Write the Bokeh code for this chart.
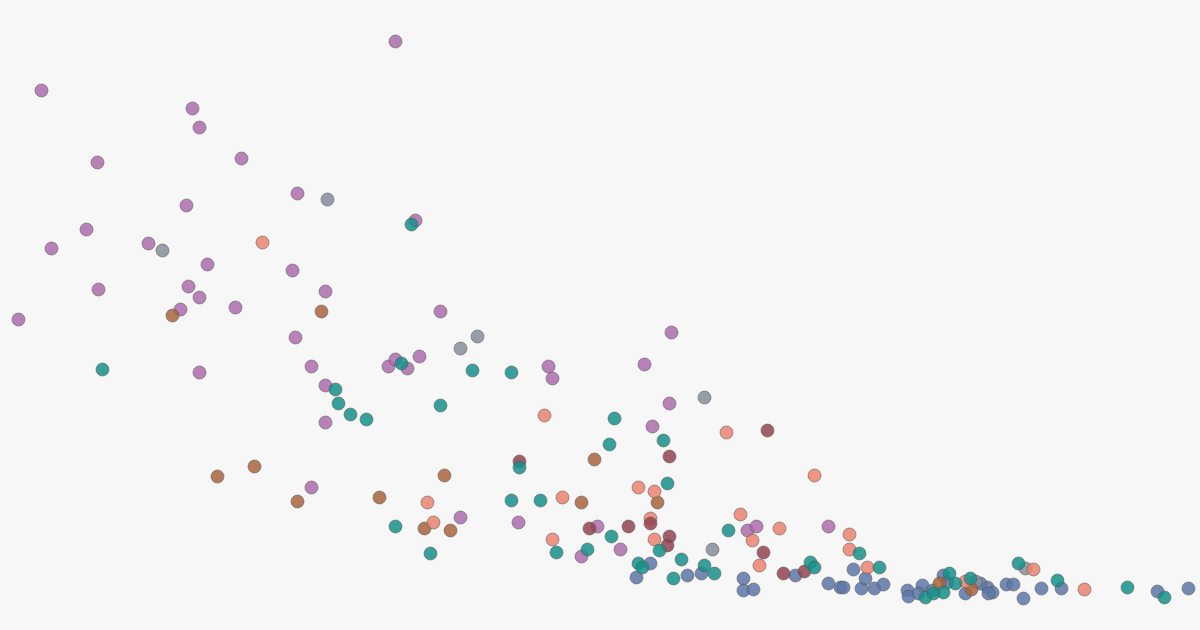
from bokeh.plotting import figure
from bokeh.models import Range1d
from bokeh.embed import file_html
from bokeh.resources import INLINE

# Values (x, y) per group
purple_x = [395, 41, 192, 199, 97, 241, 297, 186, 86, 148, 51, 415, 207, 292, 188, 98, 325, 199, 180, 235, 18, 440, 671, 295, 311, 325, 325, 199, 388, 395, 407, 419, 548, 552, 644, 669, 652, 311, 460, 518, 597, 581, 620, 747, 756, 828]
purple_y = [41, 90, 108, 127, 162, 158, 193, 205, 229, 243, 248, 220, 264, 270, 286, 289, 291, 297, 309, 307, 319, 311, 332, 337, 366, 385, 422, 372, 366, 359, 368, 356, 366, 378, 364, 403, 426, 487, 517, 522, 526, 556, 549, 530, 526, 526]

teal_x = [411, 102, 335, 338, 350, 366, 401, 472, 511, 440, 614, 609, 663, 519, 667, 511, 540, 395, 430, 556, 587, 611, 638, 642, 659, 673, 681, 704, 714, 728, 810, 814, 859, 879, 949, 943, 925, 933, 955, 970, 1018, 1057, 1127, 1164]
teal_y = [224, 369, 389, 403, 414, 419, 363, 370, 372, 405, 418, 444, 440, 467, 483, 500, 500, 526, 553, 552, 549, 536, 563, 567, 550, 578, 559, 565, 573, 530, 562, 567, 553, 567, 573, 592, 597, 593, 583, 578, 563, 580, 587, 597]

grey_x = [327, 162, 460, 477, 704, 712, 975, 1025]
grey_y = [199, 250, 348, 336, 397, 549, 581, 568]

salmon_x = [262, 544, 726, 814, 638, 654, 562, 427, 433, 552, 740, 752, 779, 650, 654, 759, 849, 849, 867, 965, 1033, 1084]
salmon_y = [242, 415, 432, 475, 487, 491, 497, 502, 522, 539, 514, 540, 528, 518, 539, 565, 534, 549, 567, 581, 569, 589]

brown_x = [172, 321, 217, 254, 297, 379, 444, 424, 450, 594, 581, 657, 939, 971]
brown_y = [315, 311, 476, 466, 501, 497, 475, 528, 530, 459, 502, 502, 583, 589]

darkred_x = [519, 669, 767, 589, 628, 650, 669, 667, 763, 783, 804]
darkred_y = [461, 456, 430, 528, 526, 523, 536, 545, 552, 573, 571]

blue_x = [650, 636, 687, 701, 743, 743, 753, 795, 828, 840, 853, 843, 861, 865, 874, 883, 907, 908, 922, 918, 932, 943, 947, 965, 987, 992, 988, 980, 1006, 1013, 1023, 1041, 1061, 1157, 1188]
blue_y = [563, 577, 575, 573, 578, 590, 589, 575, 583, 587, 569, 587, 588, 578, 588, 584, 590, 596, 585, 593, 590, 575, 582, 593, 587, 592, 593, 583, 584, 584, 598, 588, 588, 591, 588]

groups = [
    (blue_x, blue_y, "#5d77a8"),
    (purple_x, purple_y, "#ad6cad"),
    (grey_x, grey_y, "#868e99"),
    (brown_x, brown_y, "#a9643c"),
    (salmon_x, salmon_y, "#ec8270"),
    (darkred_x, darkred_y, "#934350"),
    (teal_x, teal_y, "#159189"),
]

BG = "#f7f7f7"
p = figure(width=1200, height=630, output_backend="svg", toolbar_location=None,
           x_range=Range1d(0, 1200), y_range=Range1d(630, 0),
           background_fill_color=BG, border_fill_color=BG,
           min_border=0, outline_line_color=None)
p.axis.visible = False
p.grid.visible = False

for xs, ys, col in groups:
    p.scatter(xs, ys, size=13, fill_color=col, fill_alpha=0.85,
              line_color="#555555", line_alpha=0.55, line_width=1)

html = file_html(p, INLINE)
html = html.replace("<head>", "<head><style>html,body{margin:0;padding:0;overflow:hidden;background:#f7f7f7;}</style>", 1)
open("out.html", "w").write(html)
